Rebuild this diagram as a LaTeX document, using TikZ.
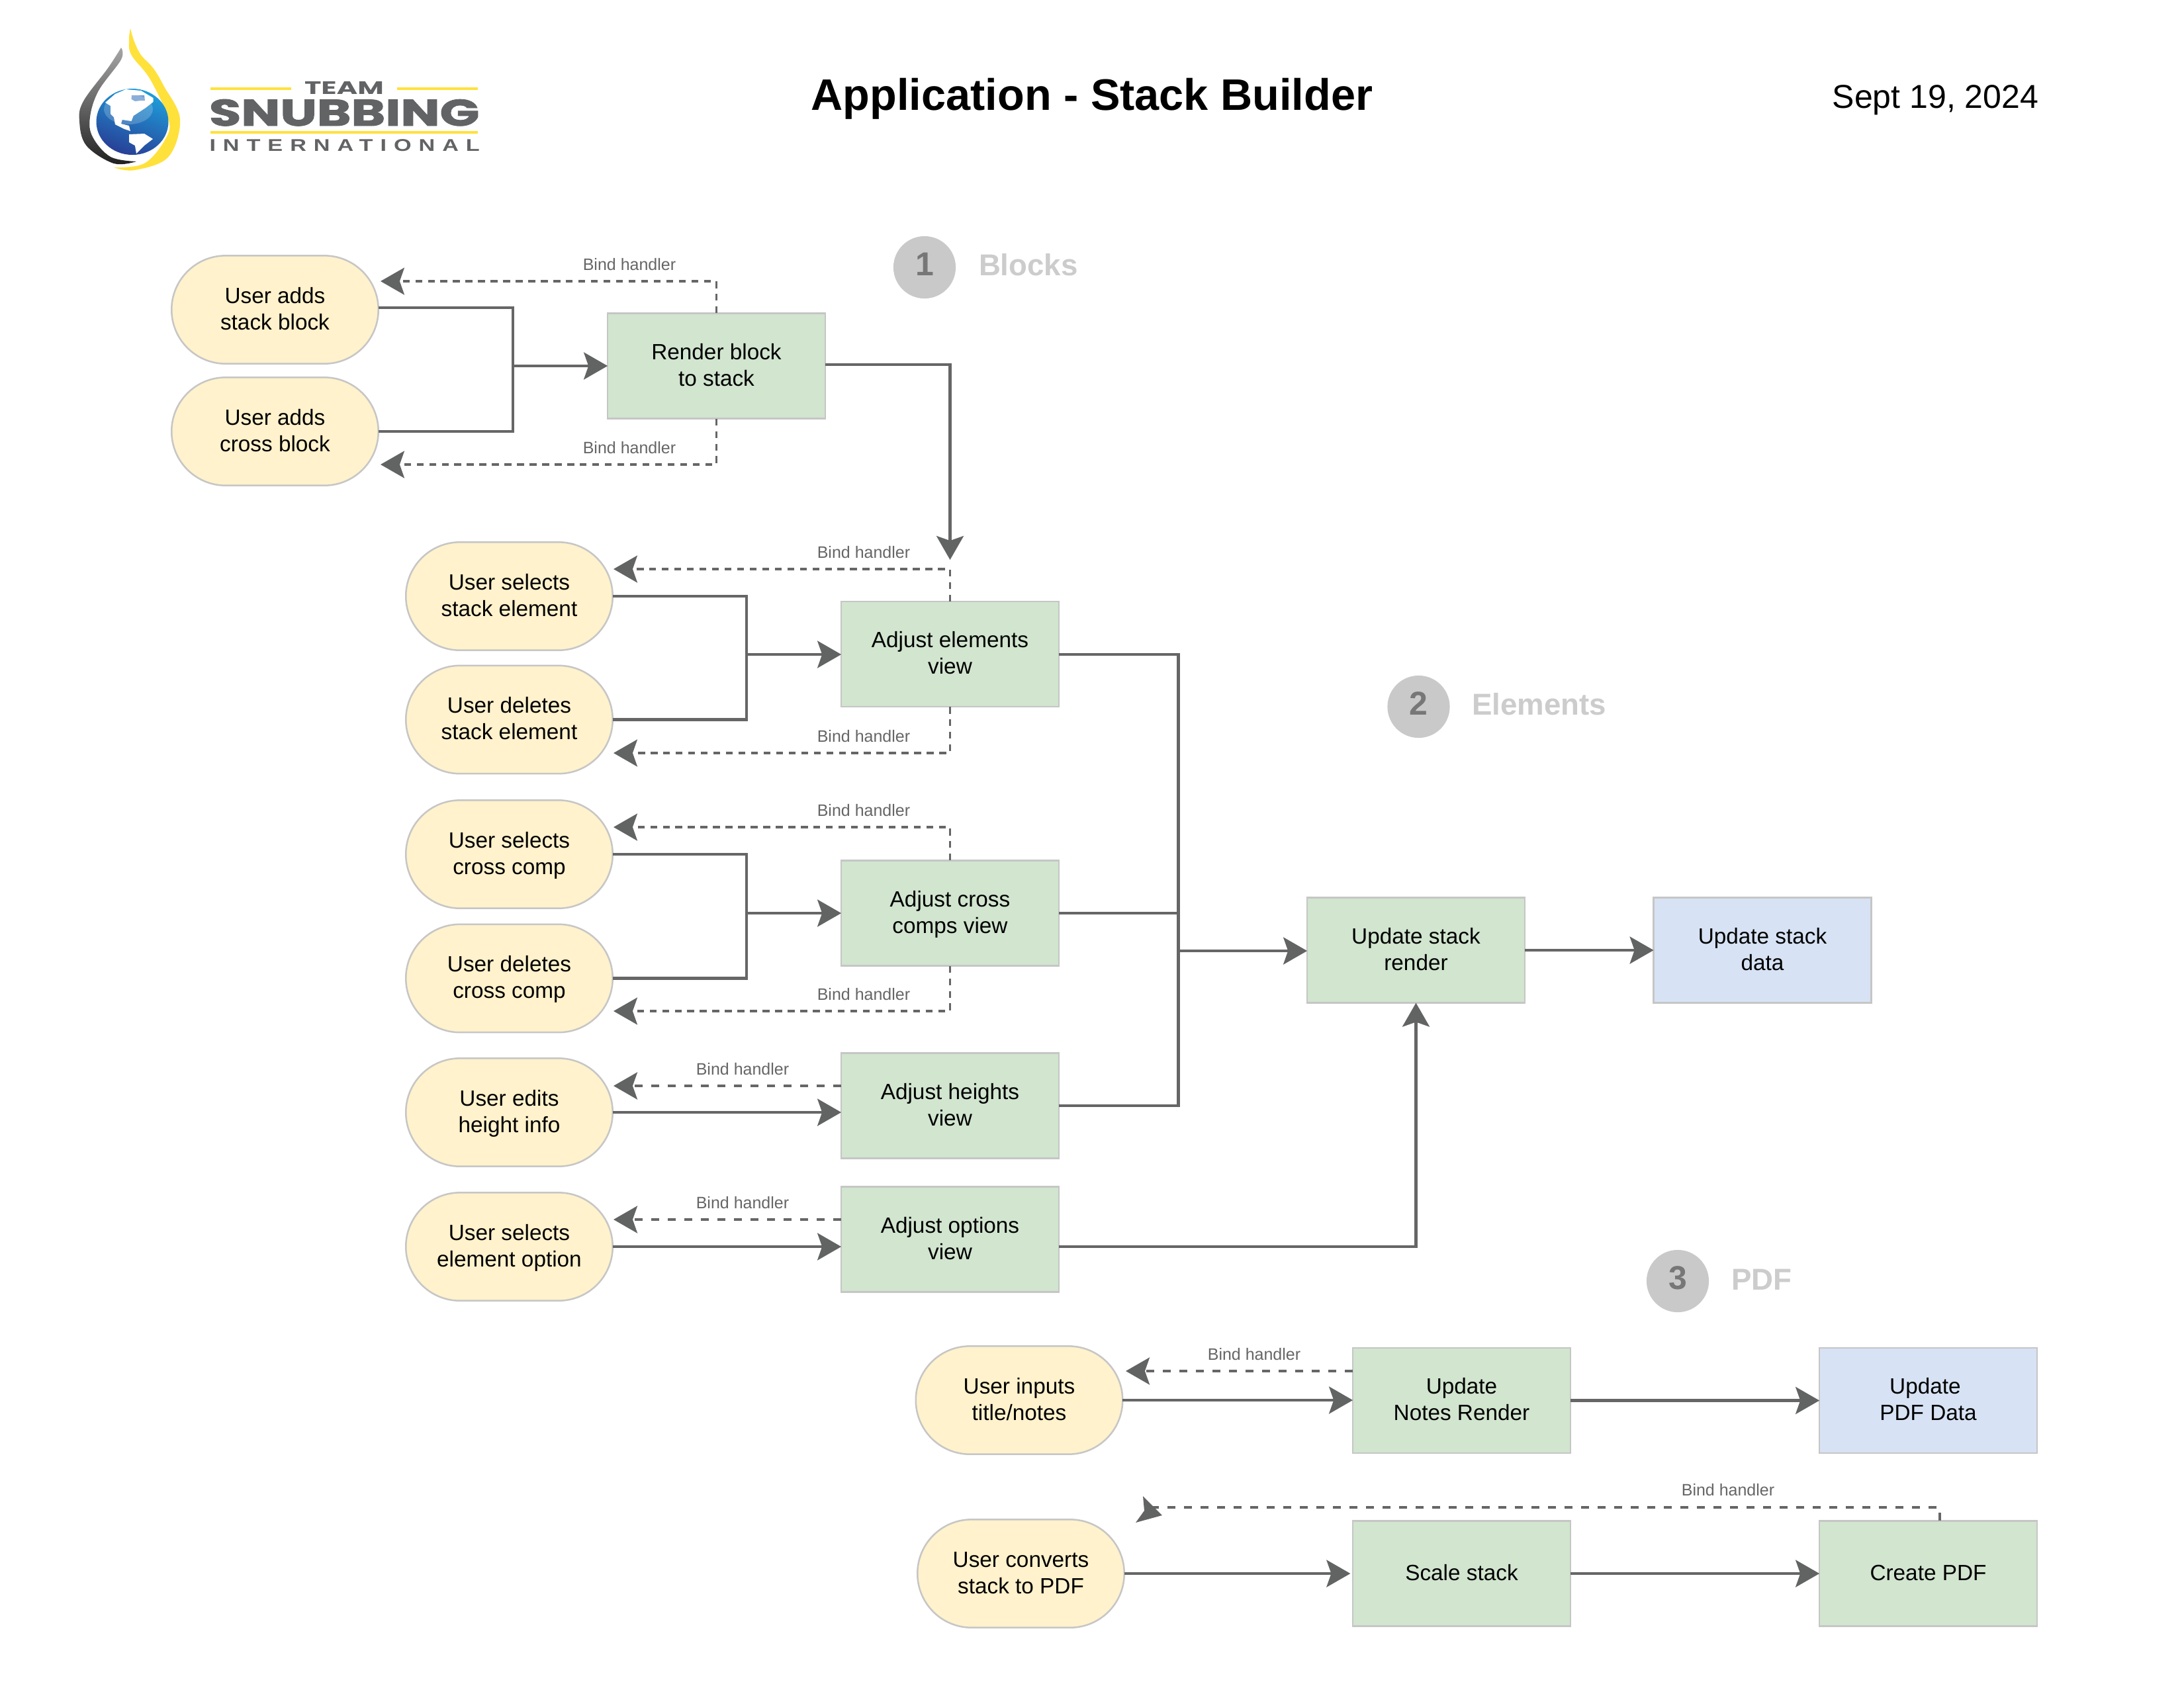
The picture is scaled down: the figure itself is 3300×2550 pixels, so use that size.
\documentclass[tikz,border=0pt]{standalone}
\usepackage{fontspec}
\usepackage{graphicx}
\setmainfont{Liberation Sans}
\newfontfamily\logofont{Poppins}
\usetikzlibrary{arrows.meta}
\definecolor{linec}{HTML}{666666}
\definecolor{tipc}{HTML}{626464}
\definecolor{pillfill}{HTML}{FFF2CC}
\definecolor{greenfill}{HTML}{D1E5CF}
\definecolor{bluefill}{HTML}{D7E3F4}
\definecolor{edgec}{HTML}{C6C6C6}
\definecolor{badgec}{HTML}{C9C9C9}
\definecolor{digitc}{HTML}{777777}
\definecolor{logoy}{HTML}{FFE13C}
\definecolor{logog}{HTML}{626365}
\definecolor{globetop}{HTML}{1E9FDB}
\definecolor{globebot}{HTML}{283F96}
\definecolor{bayc}{HTML}{6F9BD0}
\newcommand{\lnstrut}{\rule[-2.4bp]{0pt}{9.6bp}}
\newcommand{\twol}[2]{\lnstrut #1\\\lnstrut #2}
\tikzset{
  x=0.24bp,y=-0.24bp,
  basebox/.style={draw=edgec,line width=0.6bp,inner sep=0pt,outer sep=0pt,align=center,text=black,
    font=\fontsize{8bp}{9.6bp}\selectfont},
  pill/.style={basebox,fill=pillfill,minimum width=75bp,minimum height=39.2bp,rounded corners=19.6bp},
  gbox/.style={basebox,fill=greenfill,minimum width=78.9bp,minimum height=38.2bp},
  bbox/.style={gbox,fill=bluefill},
  headtip/.tip={Stealth[length=8.64bp,width=9.84bp,inset=1.7bp,color=tipc]},
  solidc/.style={draw=linec,line width=1bp},
  flow/.style={solidc,-headtip},
  dashA/.style={draw=linec,line width=0.75bp,dash pattern=on 2.5bp off 2.05bp,-headtip},
  dashB/.style={draw=linec,line width=0.95bp,dash pattern=on 3bp off 3bp,-headtip},
  bind/.style={inner sep=0pt,outer sep=0pt,anchor=base,text=linec,font=\fontsize{6bp}{7.2bp}\selectfont},
  badge/.style={circle,fill=badgec,inner sep=0pt,outer sep=0pt,minimum size=22.6bp,text=digitc,
    font=\bfseries\fontsize{12bp}{14.4bp}\selectfont},
  sect/.style={inner sep=0pt,outer sep=0pt,anchor=base west,text=black!20,font=\bfseries\fontsize{10.95bp}{13bp}\selectfont},
  logotext/.style={inner sep=0pt,outer sep=0pt,text=logog},
  yrule/.style={fill=logoy},
}
\begin{document}
\begin{tikzpicture}
\useasboundingbox (0,0) rectangle (3300,2550);
\fill[white] (0,0) rectangle (3300,2550);

% ---------- logo ----------
\fill[logoy] plot[smooth,tension=.6] coordinates {(197,43) (203,63) (213,83) (231.5,103) (247.6,130) (272,180) (254.5,237) (204,257) (172,253)}
  -- plot[smooth,tension=.6] coordinates {(172,253) (218,247) (250,210) (254.5,180) (227,120) (198.5,83) (195,60) (197,43)} -- cycle;
\shade[top color=black!35,middle color=black!65,bottom color=black!88]
  plot[smooth,tension=.6] coordinates {(183,72) (163,103) (126,153) (120,183) (130.5,220) (172,247) (206,244)}
  -- plot[smooth,tension=.6] coordinates {(206,244) (167,237) (140,207) (136,177) (149,137) (183,90) (183,72)} -- cycle;
\shade[top color=globetop,bottom color=globebot,shading angle=-20]
  (200,184) ellipse [x radius=54.5,y radius=50];
\fill[white] (159,155) -- (174,142) -- (190,135) -- (213,137) -- (231.5,148) -- (231.5,154) -- (220,163) -- (201.7,175) -- (198.5,183) -- (184.7,181) -- (183,187) -- (195,190) -- (197,198) -- (188,195) -- (174,188) -- (172,177) -- (167,172) -- (167,160) -- cycle;
\fill[bayc] (199,144) -- (218,144) -- (219,152) -- (213,152) -- (204,153) -- (198.5,150) -- cycle;
\fill[white] (195,203) -- (218,202) -- (231,210) -- (218,220) -- (206,232) -- (204,220) -- (195,215) -- cycle;
\fill[white,opacity=.2] (194,165) ellipse [x radius=37,y radius=23];

\fill[yrule] (318,132) rectangle (440,136);
\fill[yrule] (600,132) rectangle (722,136);
\fill[yrule] (318,198) rectangle (722,202);
\node[logotext,anchor=north west] (logoteam) at (460,123) {\resizebox{28.8bp}{4.6bp}{\logofont\bfseries TEAM}};
\node[logotext,anchor=north west] (logosnub) at (316,150) {\resizebox{98bp}{9.6bp}{\logofont\bfseries\addfontfeature{FakeBold=1.5}SNUBBING}};
\node[logotext,anchor=north west] (logointl) at (316.5,211) {\resizebox{98bp}{4.3bp}{\addfontfeature{LetterSpace=32}\bfseries INTERNATIONAL}};

% ---------- headings ----------
\node[inner sep=0pt,anchor=base,font=\bfseries\fontsize{16bp}{19.2bp}\selectfont] (title) at (1650,166) {Application - Stack Builder};
\node[inner sep=0pt,anchor=base east,font=\fontsize{12bp}{14.4bp}\selectfont] (date) at (3081,163) {Sept 19, 2024};

\node[badge] (b1) at (1397,404) {\strut 1};
\node[badge] (b2) at (2143.5,1068) {\strut 2};
\node[badge] (b3) at (2535,1936) {\strut 3};
\node[sect] (s1) at (1479,416) {Blocks};
\node[sect] (s2) at (2224,1080) {Elements};
\node[sect] (s3) at (2616,1949) {PDF};

% ---------- nodes ----------
\node[pill] (uaddstack) at (415.5,468) {\twol{User adds}{stack block}};
\node[pill] (uaddcross) at (415.5,652) {\twol{User adds}{cross block}};
\node[gbox] (render) at (1082.5,553) {\twol{Render block}{to stack}};

\node[pill] (uselstack) at (769.5,901) {\twol{User selects}{stack element}};
\node[pill] (udelstack) at (769.5,1087.5) {\twol{User deletes}{stack element}};
\node[pill] (uselcross) at (769.5,1291) {\twol{User selects}{cross comp}};
\node[pill] (udelcross) at (769.5,1478.5) {\twol{User deletes}{cross comp}};
\node[pill] (uedit) at (769.5,1681) {\twol{User edits}{height info}};
\node[pill] (uopt) at (769.5,1884) {\twol{User selects}{element option}};

\node[gbox] (adjel) at (1435.5,988.5) {\twol{Adjust elements}{view}};
\node[gbox] (adjcr) at (1435.5,1380) {\twol{Adjust cross}{comps view}};
\node[gbox] (adjht) at (1435.5,1671) {\twol{Adjust heights}{view}};
\node[gbox] (adjop) at (1435.5,1873) {\twol{Adjust options}{view}};

\node[gbox] (update) at (2139.5,1436) {\twol{Update stack}{render}};
\node[bbox] (data) at (2663,1436) {\twol{Update stack}{data}};

\node[pill] (uinput) at (1540,2116) {\twol{User inputs}{title/notes}};
\node[gbox] (notes) at (2208.5,2116.5) {\twol{Update}{Notes Render}};
\node[bbox] (pdfdata) at (2913.5,2116.5) {\twol{Update\hspace*{2.2bp}}{PDF Data}};
\node[pill] (uconv) at (1542.5,2378) {\twol{User converts}{stack to PDF}};
\node[gbox] (scale) at (2208.5,2378) {\lnstrut Scale stack};
\node[gbox] (create) at (2913.5,2378) {\lnstrut Create PDF};

% ---------- junctions and free ends ----------
\coordinate (j1) at (775,553);
\coordinate (j2) at (1128,989);
\coordinate (j3) at (1128,1380);
\coordinate (bus) at (1780.5,1437);
\coordinate (t1) at (575,425);
\coordinate (t2) at (575,702);
\coordinate (t3) at (927,860);
\coordinate (t4) at (927,1138);
\coordinate (t5) at (927,1250);
\coordinate (t6) at (927,1528);
\coordinate (t7) at (927,1641);
\coordinate (t8) at (927,1843);
\coordinate (t9) at (1701,2072);
\coordinate (t10) at (1738,2278);
\coordinate (t11) at (1435.5,846);

% ---------- block group ----------
\draw[solidc] (uaddstack.east |- 0,465) -| (j1);
\draw[solidc] (uaddcross.east) -| (j1);
\draw[flow] (j1) -- (render.west);
\draw[dashA] (render.north) |- (t1);
\draw[dashA] (render.south) |- (t2);
\draw[flow] (render.east |- 0,551) -| (t11);

% ---------- element group ----------
\draw[solidc] (uselstack.east) -| (j2);
\draw[solidc] (udelstack.east) -| (j2);
\draw[flow] (j2) -- (adjel.west |- j2);
\draw[dashA] (adjel.north) |- (t3);
\draw[dashA] (adjel.south) |- (t4);
\draw[solidc] (uselcross.east) -| (j3);
\draw[solidc] (udelcross.east) -| (j3);
\draw[flow] (j3) -- (adjcr.west);
\draw[dashA] (adjcr.north) |- (t5);
\draw[dashA] (adjcr.south) |- (t6);
\draw[dashB] (adjht.west |- t7) -- (t7);
\draw[flow] (uedit.east) -- (adjht.west |- uedit.east);
\draw[dashB] (adjop.west |- t8) -- (t8);
\draw[flow] (uopt.east) -- (adjop.west |- uopt.east);

\draw[solidc] (adjel.east |- 0,989) -| (bus);
\draw[solidc] (adjcr.east) -- (adjcr.east -| bus);
\draw[solidc] (adjht.east) -| (bus);
\draw[flow] (bus) -- (update.west |- bus);
\draw[flow] (update.east) -- (data.west);
\draw[flow] (adjop.east |- uopt.east) -| (update.south);

% ---------- pdf group ----------
\draw[dashB] (notes.west |- t9) -- (t9);
\draw[flow] (uinput.east) -- (notes.west |- uinput.east);
\draw[flow] (notes.east) -- (pdfdata.west);
\draw[flow,shorten >=0.9bp] (uconv.east) -- (scale.west);
\draw[flow] (scale.east) -- (create.west);
\draw[dashB,-] (2931,0 |- create.north) |- (t10);
\fill[tipc] (1756,2290) -- (1727,2261) -- (1729,2283) -- (1716,2301) -- cycle;

% ---------- edge labels ----------
\node[bind] (l1) at (951,408) {Bind handler};
\node[bind] (l2) at (951,685) {Bind handler};
\node[bind] (l3) at (1305,843) {Bind handler};
\node[bind] (l4) at (1305,1121) {Bind handler};
\node[bind] (l5) at (1305,1233) {Bind handler};
\node[bind] (l6) at (1305,1511) {Bind handler};
\node[bind] (l7) at (1122,1624) {Bind handler};
\node[bind] (l8) at (1122,1826) {Bind handler};
\node[bind] (l9) at (1895,2055) {Bind handler};
\node[bind] (l10) at (2611,2260) {Bind handler};
\end{tikzpicture}
\end{document}
